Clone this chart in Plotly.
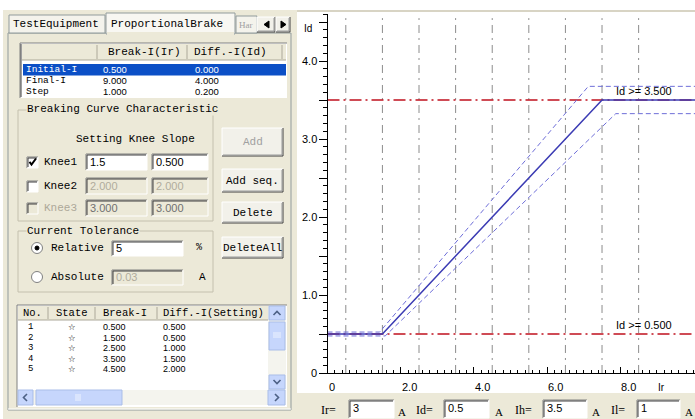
import plotly.graph_objects as go

W, H = 695, 419

# ---------------- chart data ----------------
ir_main = [0, 1.5, 7.5, 10.04]
id_main = [0.5, 0.5, 3.5, 3.5]
ir_upper = [0, 1.425, 7.125, 10.04]
id_upper = [0.525, 0.525, 3.675, 3.675]
ir_lower = [0, 1.575, 7.875, 10.04]
id_lower = [0.475, 0.475, 3.325, 3.325]
id_limits = [0.5, 3.5]
limit_labels = ["Id >= 0.500", "Id >= 3.500"]
grid_ir = [0.5, 1.5, 2.5, 3.5, 4.5, 5.5, 6.5, 7.5, 8.5]
x_tick_vals = [0, 2, 4, 6, 8]
x_tick_text = ["0", "2.0", "4.0", "6.0", "8.0"]
y_tick_vals = [0, 1, 2, 3, 4]
y_tick_text = ["0", "1.0", "2.0", "3.0", "4.0"]

# ---------------- panel data ----------------
tabs = ["TestEquipment", "ProportionalBrake"]
range_cols = ["Break-I(Ir)", "Diff.-I(Id)"]
range_rows = ["Initial-I", "Final-I", "Step"]
range_ir = ["0.500", "9.000", "1.000"]
range_id = ["0.000", "4.000", "0.200"]
knee_names = ["Knee1", "Knee2", "Knee3"]
knee_setting = ["1.5", "2.000", "3.000"]
knee_slope = ["0.500", "2.000", "3.000"]
buttons = ["Add", "Add seq.", "Delete", "DeleteAll"]
tol_relative = "5"
tol_absolute = "0.03"
seq_cols = ["No.", "State", "Break-I", "Diff.-I(Setting)"]
seq_no = ["1", "2", "3", "4", "5"]
seq_break = ["0.500", "1.500", "2.500", "3.500", "4.500"]
seq_diff = ["0.500", "0.500", "1.000", "1.500", "2.000"]
field_names = ["Ir=", "Id=", "Ih=", "Il="]
field_values = ["3", "0.5", "3.5", "1"]

MONO = "Liberation Mono"
SANS = "Liberation Sans"
BG = "#ECE9D8"

shapes, anns = [], []


def X(px):
    return px / W


def Y(py):
    return 1 - py / H


def rect(x0, y0, x1, y1, fill=None, line=None, lw=1, layer="below"):
    shapes.append(dict(type="rect", xref="paper", yref="paper",
                       x0=X(x0), x1=X(x1), y0=Y(y1), y1=Y(y0),
                       fillcolor=fill or "rgba(0,0,0,0)",
                       line=dict(color=line or "rgba(0,0,0,0)", width=lw if line else 0),
                       layer=layer))


def seg(x0, y0, x1, y1, color, lw=1, layer="below"):
    shapes.append(dict(type="line", xref="paper", yref="paper",
                       x0=X(x0), x1=X(x1), y0=Y(y0), y1=Y(y1),
                       line=dict(color=color, width=lw), layer=layer))


def path(pts, color, lw=1.5, fill=None, layer="above"):
    d = "M " + " L ".join(f"{X(a):.5f},{Y(b):.5f}" for a, b in pts)
    if fill:
        d += " Z"
    shapes.append(dict(type="path", xref="paper", yref="paper", path=d,
                       line=dict(color=color, width=lw),
                       fillcolor=fill or "rgba(0,0,0,0)", layer=layer))


def circle(cx, cy, r, fill, line=None):
    shapes.append(dict(type="circle", xref="paper", yref="paper",
                       x0=X(cx - r), x1=X(cx + r), y0=Y(cy + r), y1=Y(cy - r),
                       fillcolor=fill, line=dict(color=line or fill, width=1), layer="above"))


def text(x, y, s, size=11, color="#000", font=MONO, anchor="left", bg=None):
    a = dict(xref="paper", yref="paper", x=X(x), y=Y(y), text=s, showarrow=False,
             xanchor=anchor, yanchor="middle", borderpad=0,
             font=dict(family=font, size=size, color=color))
    if bg:
        a["bgcolor"] = bg
    anns.append(a)


def field(x0, y0, x1, y1, fill="white"):
    rect(x0, y0, x1, y1, fill=fill)
    seg(x0, y0, x1, y0, "#808080")
    seg(x0, y0, x0, y1, "#808080")
    seg(x0 + 1, y0 + 1, x1 - 1, y0 + 1, "#404040")
    seg(x0 + 1, y0 + 1, x0 + 1, y1 - 1, "#404040")
    seg(x0, y1, x1, y1, "#FFFFFF")
    seg(x1, y0, x1, y1, "#FFFFFF")


def button(x0, y0, x1, y1, label, color="#000"):
    rect(x0, y0, x1, y1, fill="#F2F1EA")
    seg(x0, y0, x1, y0, "#FFFFFF")
    seg(x0, y0, x0, y1, "#FFFFFF")
    seg(x0, y1, x1, y1, "#404040")
    seg(x1, y0, x1, y1, "#404040")
    seg(x0 + 1, y1 - 1, x1 - 1, y1 - 1, "#9a9a9a")
    seg(x1 - 1, y0 + 1, x1 - 1, y1 - 1, "#9a9a9a")
    if label:
        text((x0 + x1) / 2, (y0 + y1) / 2, label, color=color, anchor="center")


# ---------------- backgrounds ----------------
rect(3, 10, 295, 419, fill=BG)
rect(295, 10, 297, 419, fill=BG)
rect(297, 12, 695, 393, fill="white")
rect(297, 393, 695, 419, fill=BG)
seg(297, 11, 695, 11, "#D8D4C4", 2)

# tab control
rect(8, 33, 291, 410, line="#919B9C")
rect(9, 15, 105, 33, fill="#F4F3EC", line="#919B9C")
text(12, 24, tabs[0])
rect(106, 13, 235, 34, fill="#F8F7F2", line="#919B9C")
rect(107, 32, 234, 35, fill=BG)
text(110, 24, tabs[1])
rect(236, 16, 257, 33, fill="#F4F3EC", line="#919B9C")
text(238, 25, "Har", size=9, color="#A0A0A0", font="Liberation Serif")
button(257, 17, 275, 32, "")
button(276, 17, 290, 32, "")
path([(269, 21), (269, 28), (264, 24.5)], "#000", 1, fill="#000")
path([(281, 21), (281, 28), (286, 24.5)], "#000", 1, fill="#000")

# ---------------- range table ----------------
rect(20, 43, 287, 98, fill="white")
seg(20, 43, 287, 43, "#808080")
seg(20, 43, 20, 98, "#808080")
seg(21, 44, 21, 97, "#404040")
rect(22, 44, 286, 60, fill=BG)
for sx in [97, 187, 282]:
    seg(sx, 45, sx, 59, "#ACA899")
seg(22, 60, 286, 60, "#ACA899")
text(107, 52, range_cols[0])
text(193, 52, range_cols[1])
rect(23, 64, 286, 75.5, fill="#0B4FC6")
row_y = [69.5, 80.5, 91.5]
for i, (lab, a, b) in enumerate(zip(range_rows, range_ir, range_id)):
    col = "white" if i == 0 else "#000"
    text(25, row_y[i], lab, color=col, size=9.5)
    text(102, row_y[i], a, color=col, font=SANS, size=9.5)
    text(194, row_y[i], b, color=col, font=SANS, size=9.5)

# ---------------- breaking curve group ----------------
rect(18, 110, 213, 221, line="#C4C0AE")
text(26, 109, "Breaking Curve Characteristic", bg=BG)
text(75, 139, "Setting Knee Slope")
knee_y = [162, 186, 208]
for i, name in enumerate(knee_names):
    c = knee_y[i]
    enabled = i == 0
    cb_fill = "white" if i < 2 else BG
    field(27, c - 5, 38, c + 6, fill=cb_fill)
    text(43, c, name, color="#000" if i < 2 else "#ACA899")
    bfill = "white" if enabled else BG
    field(86, c - 8, 147, c + 8, fill=bfill)
    field(152, c - 8, 208, c + 8, fill=bfill)
    tcol = "#000" if enabled else ("#B0AC9C" if i == 1 else "#707070")
    text(89, c, knee_setting[i], color=tcol, font=SANS)
    text(155, c, knee_slope[i], color=tcol, font=SANS)
path([(29.5, 162), (31.5, 164.5), (36, 158.5)], "#000", 2)

btn_y = [(128, 156), (169, 192), (202, 223), (237, 258)]
for lab, (a, b) in zip(buttons, btn_y):
    button(222, a, 283, b, lab, color="#A0A0A0" if lab == "Add" else "#000")

# ---------------- current tolerance group ----------------
rect(18, 231, 213, 292, line="#C4C0AE")
text(26, 231, "Current Tolerance", bg=BG)
circle(37, 248, 5.5, "white", "#808080")
circle(37, 248, 2, "#000")
circle(37, 277, 5.5, "white", "#808080")
text(50, 248, "Relative")
field(112, 241, 183, 256)
text(115, 248, tol_relative, font=SANS)
text(195, 248, "%", size=10)
text(50, 277, "Absolute")
field(112, 270, 183, 285, fill=BG)
text(115, 277, tol_absolute, font=SANS, color="#B0AC9C")
text(198, 277, "A")

# ---------------- sequence table ----------------
rect(17, 305, 287, 407, fill="white")
seg(17, 305, 287, 305, "#808080")
seg(17, 305, 17, 407, "#808080")
rect(18, 306, 268, 320, fill=BG)
for sx in [48, 95, 157]:
    seg(sx, 307, sx, 319, "#ACA899")
seg(18, 320, 268, 320, "#ACA899")
text(22, 313, seq_cols[0], size=10.5)
text(55, 313, seq_cols[1], size=10.5)
text(102, 313, seq_cols[2], size=10.5)
text(162, 313, seq_cols[3], size=10.5)
seq_y = [327, 337.5, 348, 358.5, 369]
for i in range(len(seq_no)):
    yy = seq_y[i]
    text(30, yy, seq_no[i], anchor="center", size=9)
    text(72, yy, "☆", font="DejaVu Sans", size=8.5, anchor="center")
    text(102, yy, seq_break[i], font=SANS, size=9)
    text(162, yy, seq_diff[i], font=SANS, size=9)
# vertical scrollbar
rect(268, 306, 286, 390, fill="#F4F4EE")
rect(269, 306, 285, 320, fill="#C6D6FC", line="#A9BDE8")
path([(273.5, 315), (277, 311.5), (280.5, 315)], "#4D6185", 1.6)
rect(269, 322, 285, 350, fill="#C6D6FC", line="#A9BDE8")
for gy in [333, 335, 337]:
    seg(273, gy, 281, gy, "#EEF3FE")
rect(269, 375, 285, 389, fill="#C6D6FC", line="#A9BDE8")
path([(273.5, 380), (277, 383.5), (280.5, 380)], "#4D6185", 1.6)
# horizontal scrollbar
rect(18, 390, 286, 405, fill="#F4F4EE")
rect(18, 390, 33, 405, fill="#C6D6FC", line="#A9BDE8")
path([(27, 394), (23.5, 397.5), (27, 401)], "#4D6185", 1.6)
rect(36, 390, 122, 405, fill="#C6D6FC", line="#A9BDE8")
for gx in [76, 78, 80]:
    seg(gx, 394, gx, 401, "#EEF3FE")
rect(268, 390, 285, 405, fill="#C6D6FC", line="#A9BDE8")
path([(275, 394), (278.5, 397.5), (275, 401)], "#4D6185", 1.6)
seg(8, 409, 291, 409, "#FFFFFF")

# ---------------- bottom input strip ----------------
label_x = [320, 415, 514, 610]
box_x = [(349, 394), (444, 489), (543, 587), (637, 680)]
unit_x = [397, 494, 591, 684]
for n, v, lx, (b0, b1), ux in zip(field_names, field_values, label_x, box_x, unit_x):
    text(lx, 410, n, font="Liberation Serif", size=12)
    field(b0, 400, b1, 418)
    text(b0 + 3, 408, v, font=SANS, size=11)
    text(ux, 412, "A", font="Liberation Serif", size=11)

# ---------------- chart ----------------
XMAX = 10.04
YMAX = 4.6
fig = go.Figure()

gx, gy = [], []
for g in grid_ir:
    gx += [g, g, None]
    gy += [0, 4.55, None]
fig.add_trace(go.Scatter(x=gx, y=gy, mode="lines", hoverinfo="skip",
                         line=dict(color="#8C8C8C", width=1, dash="8px,5px,2px,5px")))
for v in id_limits:
    fig.add_trace(go.Scatter(x=[0, XMAX], y=[v, v], mode="lines", hoverinfo="skip",
                             line=dict(color="#C0101E", width=1.6, dash="12px,4px,2px,4px")))
fig.add_trace(go.Scatter(x=ir_upper, y=id_upper, mode="lines",
                         line=dict(color="#6E6ED8", width=1, dash="5px,3px")))
fig.add_trace(go.Scatter(x=ir_lower, y=id_lower, mode="lines",
                         line=dict(color="#6E6ED8", width=1, dash="5px,3px")))
fig.add_trace(go.Scatter(x=ir_main, y=id_main, mode="lines",
                         line=dict(color="#3C3CB4", width=1.5)))

for v, lab in zip(id_limits, limit_labels):
    anns.append(dict(xref="x", yref="y", x=7.85, y=v + 0.115, text=lab, showarrow=False,
                     xanchor="left", yanchor="middle", borderpad=0,
                     font=dict(family=SANS, size=11, color="#000")))
for v, t in zip(x_tick_vals, x_tick_text):
    anns.append(dict(xref="x", yref="paper", x=v, y=Y(387), text=t, showarrow=False,
                     xanchor="left", yanchor="middle", borderpad=0,
                     font=dict(family=SANS, size=11, color="#000")))
anns.append(dict(xref="paper", yref="paper", x=X(657), y=Y(387), text="Ir", showarrow=False,
                 xanchor="left", yanchor="middle", borderpad=0,
                 font=dict(family=SANS, size=10, color="#000")))
for v, t in zip(y_tick_vals, y_tick_text):
    anns.append(dict(xref="paper", yref="y", x=X(318), y=v, text=t, showarrow=False,
                     xanchor="right", yanchor="middle", borderpad=0,
                     font=dict(family=SANS, size=11, color="#000")))
anns.append(dict(xref="paper", yref="paper", x=X(303), y=Y(28), text="Id", showarrow=False,
                 xanchor="left", yanchor="middle", borderpad=0,
                 font=dict(family=SANS, size=10, color="#000")))

fig.update_layout(
    width=W, height=H, margin=dict(l=0, r=0, t=0, b=0),
    paper_bgcolor="white", plot_bgcolor="rgba(0,0,0,0)",
    showlegend=False, shapes=shapes, annotations=anns,
    xaxis=dict(domain=[327.5 / W, 1], range=[0, XMAX], showgrid=False, zeroline=False,
               showline=True, linecolor="#000", linewidth=1,
               ticks="inside", ticklen=6, tickcolor="#000", tickvals=[0, 2, 4, 6, 8],
               showticklabels=False, fixedrange=True,
               minor=dict(dtick=0.2, ticks="inside", ticklen=3, tickcolor="#000", showgrid=False)),
    yaxis=dict(domain=[1 - 373 / H, 1 - (373 - YMAX * 78) / H], range=[0, YMAX],
               showgrid=False, zeroline=False,
               showline=True, linecolor="#000", linewidth=1,
               ticks="outside", ticklen=8, tickcolor="#000", dtick=0.5, tick0=0,
               showticklabels=False, fixedrange=True,
               minor=dict(dtick=0.1, ticks="outside", ticklen=4, tickcolor="#000", showgrid=False)),
)

fig.write_html("out.html", config={"displayModeBar": False},
               post_script="document.body.style.margin='0';document.body.style.padding='0';document.body.style.overflow='hidden';")
